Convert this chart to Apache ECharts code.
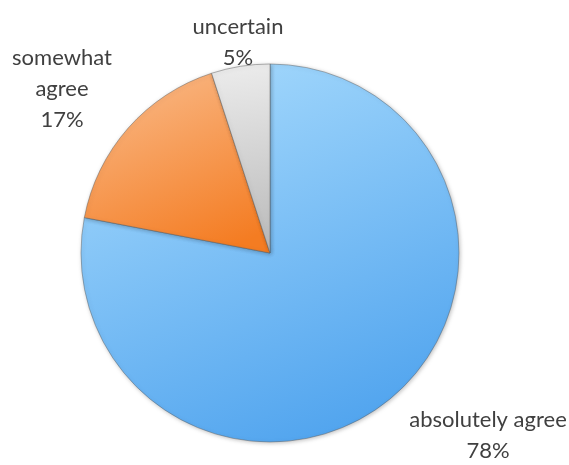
<!DOCTYPE html>
<html><head><meta charset="utf-8">
<script src="https://cdn.jsdelivr.net/npm/echarts@6/dist/echarts.min.js"></script>
<style>html,body{margin:0;padding:0;background:#fff}#c{width:569px;height:465px}</style>
</head><body><div id="c"></div>
<script>
const categories = ['absolutely agree', 'somewhat agree', 'uncertain'];
const values = [78, 17, 5];
const labelTexts = ['absolutely agree\n78%', 'somewhat\nagree\n17%', 'uncertain\n5%'];

const grads = [
  ['#a3d8fc', '#4fa3ee'],
  ['#f9b784', '#f47c22'],
  ['#ececec', '#b9b9b9']
];
const labelPos = [[488, 435], [62, 89], [238, 42]];

const chart = echarts.init(document.getElementById('c'));
chart.setOption({
  animation: false,
  series: [{
    type: 'pie',
    center: [270, 253],
    radius: [0, 189],
    startAngle: 90,
    clockwise: true,
    data: categories.map((c, i) => ({
      name: c, value: values[i],
      itemStyle: {
        color: new echarts.graphic.LinearGradient(0.3, 0, 0.7, 1, [
          {offset: 0, color: grads[i][0]}, {offset: 1, color: grads[i][1]}
        ])
      }
    })),
    itemStyle: {borderColor: 'rgba(90,90,90,0.45)', borderWidth: 1,
      shadowBlur: 4, shadowColor: 'rgba(0,0,0,0.25)', shadowOffsetX: 1, shadowOffsetY: 1},
    label: {
      show: true, position: 'outside', overflow: 'none', width: 300,
      formatter: p => labelTexts[p.dataIndex],
      fontFamily: 'Lato', fontSize: 22, color: '#404040', lineHeight: 31, align: 'center'
    },
    labelLine: {show: false},
    labelLayout: p => ({x: labelPos[p.dataIndex][0], y: labelPos[p.dataIndex][1], align: 'center', verticalAlign: 'middle'})
  }]
});
</script></body></html>
